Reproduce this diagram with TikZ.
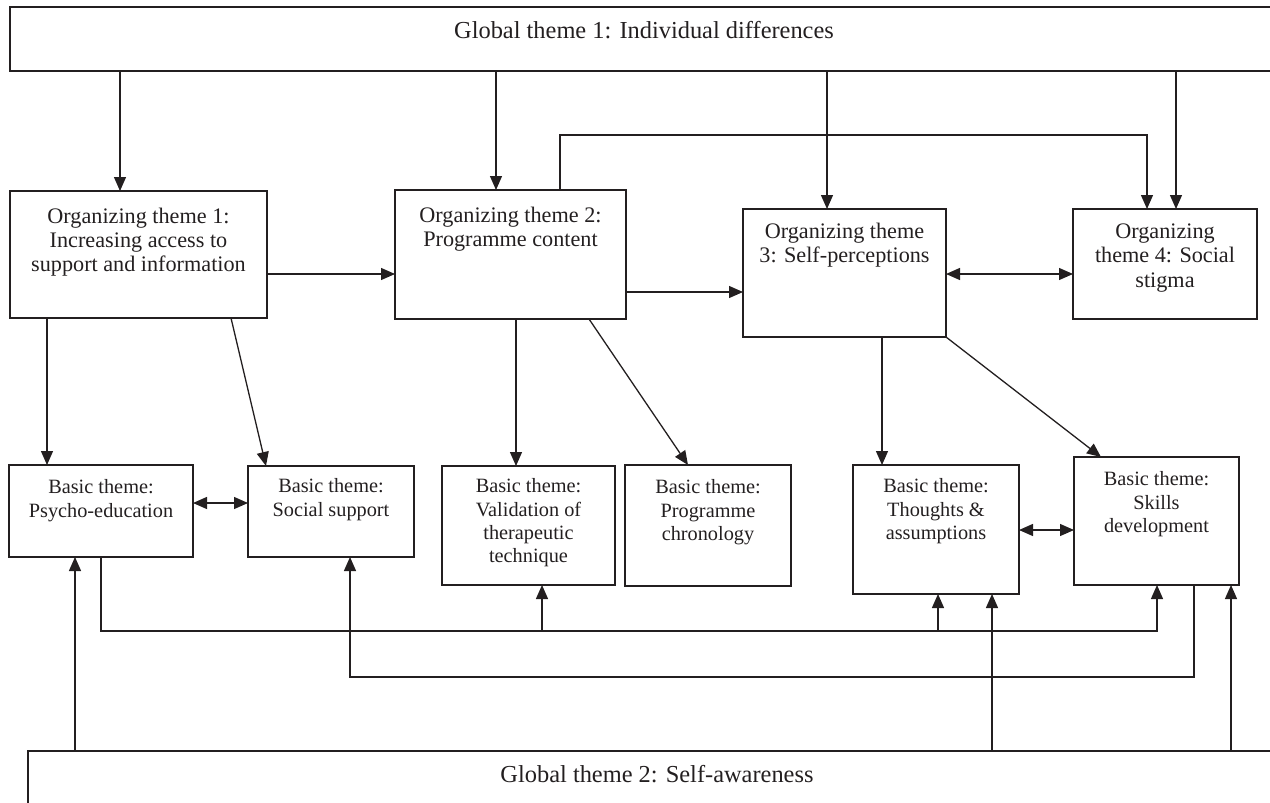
\documentclass[tikz,border=0pt]{standalone}
\usepackage{fontspec}
\setmainfont{Liberation Serif}
\usetikzlibrary{arrows.meta}
\definecolor{ink}{RGB}{35,31,32}
\newcommand{\mybox}[5]{\node[box,minimum width=#4pt,minimum height=#5pt,anchor=north west] (#1) at (#2,#3) {};}
\begin{document}
\begin{tikzpicture}[x=1pt,y=-1pt,
  box/.style={draw=ink,line width=1.4pt,inner sep=0pt,outer sep=0pt},
  gtext/.style={text=ink,inner sep=0pt,anchor=north,font=\fontsize{24.4}{28}\selectfont},
  otext/.style={text=ink,inner sep=0pt,anchor=north,align=center,font=\fontsize{22.2}{24.4}\selectfont},
  btext/.style={text=ink,inner sep=0pt,anchor=north,align=center,font=\fontsize{20.3}{23.4}\selectfont},
  conn/.style={draw=ink,line width=1.3pt},
  arr/.style={conn,-{Triangle[length=14pt,width=12pt]}},
  darr/.style={conn,{Triangle[length=14pt,width=12pt]}-{Triangle[length=14pt,width=12pt]}}]
\useasboundingbox (0,0) rectangle (1270,803);
% boxes
\mybox{g1}{10}{7}{1275}{64}
\mybox{o1}{10}{191}{257}{127}
\mybox{o2}{395}{190}{231}{129}
\mybox{o3}{743}{209}{203}{128}
\mybox{o4}{1073}{209}{184}{110}
\mybox{b1}{9}{465}{184}{92}
\mybox{b2}{248}{466}{166}{91}
\mybox{b3}{442}{466}{173}{119}
\mybox{b4}{625}{465}{166}{121}
\mybox{b5}{853}{465}{166}{129}
\mybox{b6}{1074}{457}{165}{128}
\mybox{g2}{28}{751}{1262}{80}
% texts
\node[gtext] (g1t) at (644,21.5) {Global theme 1: Individual differences};
\node[otext] (o1t) at (o1.north |- 0,207.5) {Organizing theme 1:\\Increasing access to\\support and information};
\node[otext] (o2t) at (o2.north |- 0,206.5) {Organizing theme 2:\\Programme content};
\node[otext] (o3t) at (o3.north |- 0,222.5) {Organizing theme\\3: Self-perceptions};
\node[otext] (o4t) at (o4.north |- 0,223.5) {Organizing\\theme 4: Social\\stigma};
\node[btext] (b1t) at (b1.north |- 0,479.5) {Basic theme:\\Psycho-education};
\node[btext] (b2t) at (b2.north |- 0,478.5) {Basic theme:\\Social support};
\node[btext] (b3t) at (b3.north |- 0,478.5) {Basic theme:\\Validation of\\therapeutic\\technique};
\node[btext] (b4t) at (b4.north |- 0,479.5) {Basic theme:\\Programme\\chronology};
\node[btext] (b5t) at (b5.north |- 0,478.5) {Basic theme:\\Thoughts \&\\assumptions};
\node[btext] (b6t) at (b6.north |- 0,471.5) {Basic theme:\\Skills\\development};
\node[gtext] (g2t) at (657,765.5) {Global theme 2: Self-awareness};
% helper coordinates
\coordinate (loopr) at (1147,135);
\coordinate (low1) at (1157,631);
\coordinate (low2) at (350,677);
% global 1 to organizing themes
\draw[arr] (120,0 |- g1.south) -- (120,0 |- o1.north);
\draw[arr] (496,0 |- g1.south) -- (496,0 |- o2.north);
\draw[arr] (827,0 |- g1.south) -- (827,0 |- o3.north);
\draw[arr] (1176,0 |- g1.south) -- (1176,0 |- o4.north);
\draw[arr] (560,0 |- o2.north) |- (loopr) -- (loopr |- o4.north);
% organizing themes
\draw[arr] (o1.east |- 0,274) -- (o2.west |- 0,274);
\draw[arr] (o2.east |- 0,292) -- (o3.west |- 0,292);
\draw[darr] (o3.east |- 0,274) -- (o4.west |- 0,274);
% to basic themes
\draw[arr] (47,0 |- o1.south) -- (47,0 |- b1.north);
\draw[arr] (231,0 |- o1.south) -- (266,0 |- b2.north);
\draw[arr] (516,0 |- o2.south) -- (516,0 |- b3.north);
\draw[arr] (589,0 |- o2.south) -- (688,0 |- b4.north);
\draw[arr] (882,0 |- o3.south) -- (882,0 |- b5.north);
\draw[arr] (o3.south east) -- (1101,0 |- b6.north);
\draw[darr] (b1.east |- 0,503) -- (b2.west |- 0,503);
\draw[darr] (b5.east |- 0,530) -- (b6.west |- 0,530);
% bottom network
\draw[arr] (101,0 |- b1.south) |- (low1) -- (low1 |- b6.south);
\draw[arr] (542,0 |- low1) -- (542,0 |- b3.south);
\draw[arr] (938,0 |- low1) -- (938,0 |- b5.south);
\draw[arr] (1194,0 |- b6.south) |- (low2) -- (low2 |- b2.south);
\draw[arr] (75,0 |- g2.north) -- (75,0 |- b1.south);
\draw[arr] (992,0 |- g2.north) -- (992,0 |- b5.south);
\draw[arr] (1231,0 |- g2.north) -- (1231,0 |- b6.south);
\end{tikzpicture}
\end{document}
